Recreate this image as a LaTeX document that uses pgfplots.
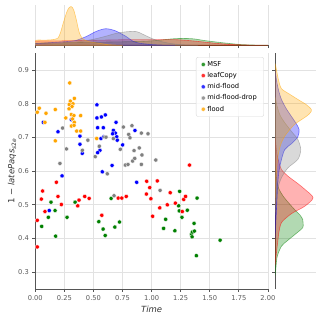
\documentclass[border=0pt]{standalone}
\usepackage{fontspec}
\setmainfont{DejaVu Sans}
\usepackage{pgfplots}
\pgfplotsset{compat=1.18}
\definecolor{cMSF}{RGB}{0,128,0}
\definecolor{cLeaf}{RGB}{255,0,0}
\definecolor{cMid}{RGB}{0,0,255}
\definecolor{cDrop}{RGB}{128,128,128}
\definecolor{cFlood}{RGB}{255,165,0}
\definecolor{gridc}{RGB}{226,226,226}
\definecolor{spine}{RGB}{85,85,85}
\pgfplotsset{
  base/.style={scale only axis, axis line style={spine,line width=0.8pt,-},
    tick style={spine,line width=0.8pt}, tick align=outside, major tick length=3pt,
    grid style={gridc,line width=0.8pt},
    ticklabel style={font=\fontsize{6.7}{8}\selectfont,text=black!65},
    /pgf/number format/assume math mode=true},
  scat/.style={only marks,mark=*,mark size=2.1pt,mark options={draw=white,line width=0.3pt,fill=#1}},
  kde/.style={draw=#1,draw opacity=0.5,fill=#1,fill opacity=0.3,line width=0.6pt,smooth,tension=0.5,mark=none},
}
\begin{document}
\begin{tikzpicture}
\path[use as bounding box] (0,0) rectangle (321pt,320pt);

% main scatter
\begin{axis}[base, at={(35.3pt,31pt)}, anchor=south west,
  width=232.6pt, height=235.7pt,
  axis lines*=left, tick pos=left,
  xmin=0, xmax=2, ymin=0.25, ymax=0.95,
  xtick={0,0.25,...,2}, ytick={0.3,0.4,...,0.9},
  xticklabel style={/pgf/number format/.cd,fixed,fixed zerofill,precision=2},
  yticklabel style={/pgf/number format/.cd,fixed,fixed zerofill,precision=1},
  grid=major,
  xlabel={\itshape Time}, ylabel={1 − \textit{latePaqs}\textsubscript{\textit{s}2\textit{e}}},
  label style={font=\fontsize{8.5}{10}\selectfont,text=black!80},
  xlabel style={at={(axis description cs:0.5,-0.085)},anchor=center},
  ylabel style={at={(axis description cs:-0.1,0.5)},anchor=center},
  legend style={at={(0.983,0.984)},anchor=north east,draw=black!15,rounded corners=2pt,
    fill=white,fill opacity=0.8,text opacity=1,font=\fontsize{6.7}{8}\selectfont,
    row sep=0.6pt,inner xsep=5pt,inner ysep=2pt},
  legend cell align=left,
]
\addplot[scat=cMSF] coordinates {
 (0.055,0.436) (0.112,0.463) (0.135,0.508) (0.170,0.483) (0.175,0.407) (0.273,0.463)
 (0.342,0.508) (0.546,0.450) (0.583,0.428) (0.601,0.409) (0.652,0.519) (0.684,0.434)
 (0.724,0.449) (1.103,0.430) (1.121,0.457) (1.200,0.423) (1.233,0.497) (1.238,0.482)
 (1.241,0.540) (1.261,0.463) (1.307,0.484) (1.342,0.412) (1.348,0.405) (1.350,0.419)
 (1.365,0.445) (1.368,0.422) (1.385,0.349) (1.391,0.520) (1.589,0.395)
};
\addlegendentry{MSF}
\addplot[scat=cLeaf] coordinates {
 (0.017,0.375) (0.017,0.454) (0.052,0.517) (0.063,0.541) (0.083,0.480) (0.181,0.567)
 (0.195,0.525) (0.224,0.501) (0.365,0.497) (0.376,0.514) (0.425,0.525) (0.463,0.519)
 (0.572,0.469) (0.713,0.520) (0.744,0.520) (0.782,0.525) (0.958,0.570) (0.955,0.532)
 (0.984,0.551) (0.994,0.518) (1.009,0.466) (1.049,0.571) (1.070,0.491) (1.135,0.500)
 (1.160,0.536) (1.204,0.505) (1.264,0.480) (1.276,0.516) (1.292,0.525) (1.326,0.618)
};
\addlegendentry{leafCopy}
\addplot[scat=cMid] coordinates {
 (0.069,0.745) (0.120,0.483) (0.195,0.717) (0.230,0.586) (0.310,0.753) (0.384,0.704)
 (0.384,0.680) (0.404,0.653) (0.530,0.797) (0.530,0.758) (0.536,0.729) (0.568,0.761)
 (0.602,0.767) (0.585,0.729) (0.565,0.697) (0.556,0.662) (0.536,0.655) (0.576,0.598)
 (0.660,0.617) (0.694,0.745) (0.671,0.721) (0.688,0.713) (0.700,0.702) (0.705,0.692)
 (0.665,0.711) (0.588,0.702) (0.751,0.678) (0.857,0.721) (0.872,0.567)
};
\addlegendentry{mid-flood}
\addplot[scat=cDrop] coordinates {
 (0.212,0.623) (0.235,0.728) (0.268,0.666) (0.404,0.662) (0.452,0.692) (0.515,0.643)
 (0.550,0.674) (0.597,0.701) (0.608,0.701) (0.619,0.592) (0.671,0.697) (0.677,0.527)
 (0.731,0.665) (0.757,0.731) (0.774,0.618) (0.797,0.620) (0.803,0.709) (0.814,0.699)
 (0.831,0.735) (0.837,0.630) (0.849,0.661) (0.855,0.638) (0.894,0.669) (0.912,0.713)
 (0.912,0.620) (0.917,0.648) (0.969,0.711) (1.036,0.633) (1.073,0.543)
};
\addlegendentry{mid-flood-drop}
\addplot[scat=cFlood] coordinates {
 (0.296,0.862) (0.336,0.816) (0.301,0.808) (0.292,0.798) (0.324,0.800) (0.316,0.792)
 (0.290,0.785) (0.034,0.787) (0.017,0.775) (0.092,0.772) (0.172,0.783) (0.083,0.745)
 (0.262,0.758) (0.310,0.768) (0.332,0.765) (0.390,0.765) (0.320,0.755) (0.335,0.745)
 (0.310,0.734) (0.333,0.736) (0.356,0.719) (0.390,0.719) (0.172,0.690) (0.528,0.697)
};
\addlegendentry{flood}
\end{axis}

% top marginal
\begin{axis}[base, at={(35.3pt,274.7pt)}, anchor=south west,
  width=232.6pt, height=40.3pt,
  axis x line*=bottom, axis y line=none,
  xmin=0, xmax=2, ymin=0, ymax=1,
  xtick={0,0.25,...,2}, xticklabels={}, ytick=\empty,
  xmajorgrids,
]
\addplot[kde=cMSF] coordinates {(0,0) (0,0.05) (0.2,0.06) (0.4,0.07) (0.6,0.08) (0.8,0.09) (1.0,0.11) (1.18,0.16) (1.27,0.17) (1.36,0.16) (1.45,0.12) (1.59,0.07) (1.76,0.02) (1.9,0.005) (2.0,0)} -- cycle;
\addplot[kde=cLeaf] coordinates {(0,0) (0,0.1) (0.2,0.11) (0.4,0.12) (0.6,0.13) (0.8,0.14) (1.0,0.14) (1.2,0.14) (1.35,0.11) (1.55,0.05) (1.7,0.02) (1.85,0.005) (2.0,0)} -- cycle;
\addplot[kde=cMid] coordinates {(0,0) (0,0.04) (0.1,0.06) (0.2,0.08) (0.3,0.1) (0.35,0.12) (0.44,0.22) (0.52,0.34) (0.6,0.41) (0.68,0.37) (0.78,0.22) (0.84,0.1) (0.9,0.05) (1.0,0.02) (1.1,0.005) (1.2,0)} -- cycle;
\addplot[kde=cDrop] coordinates {(0,0) (0.1,0.01) (0.2,0.03) (0.3,0.06) (0.4,0.1) (0.5,0.15) (0.6,0.22) (0.7,0.3) (0.8,0.34) (0.87,0.34) (0.92,0.28) (1.01,0.16) (1.1,0.08) (1.2,0.03) (1.3,0.01) (1.4,0)} -- cycle;
\addplot[kde=cFlood] coordinates {(0,0) (0,0.12) (0.05,0.13) (0.1,0.13) (0.15,0.14) (0.18,0.16) (0.195,0.18) (0.215,0.30) (0.24,0.55) (0.27,0.82) (0.29,0.93) (0.31,0.96) (0.33,0.88) (0.353,0.63) (0.38,0.30) (0.41,0.16) (0.45,0.10) (0.5,0.07) (0.55,0.05) (0.62,0.02) (0.7,0.005) (0.75,0)} -- cycle;
\end{axis}

% right marginal
\begin{axis}[base, at={(275.3pt,31pt)}, anchor=south west,
  width=41pt, height=235.7pt,
  axis y line*=left, axis x line=none,
  xmin=0, xmax=1, ymin=0.25, ymax=0.95,
  ytick={0.3,0.4,...,0.9}, yticklabels={}, xtick=\empty,
  ymajorgrids,
]
\addplot[kde=cMSF] coordinates {(0,0.62) (0.03,0.58) (0.08,0.55) (0.19,0.526) (0.33,0.505) (0.47,0.486) (0.6,0.47) (0.67,0.456) (0.68,0.444) (0.67,0.432) (0.56,0.42) (0.43,0.407) (0.28,0.392) (0.15,0.377) (0.05,0.348) (0.02,0.32) (0,0.29)} -- cycle;
\addplot[kde=cLeaf] coordinates {(0,0.7) (0.03,0.66) (0.08,0.63) (0.15,0.605) (0.31,0.585) (0.55,0.563) (0.72,0.546) (0.92,0.521) (0.72,0.496) (0.45,0.478) (0.31,0.466) (0.15,0.447) (0.09,0.42) (0.06,0.39) (0.03,0.36) (0,0.32)} -- cycle;
\addplot[kde=cMid] coordinates {(0,0.9) (0.03,0.87) (0.08,0.84) (0.15,0.813) (0.27,0.785) (0.39,0.763) (0.5,0.743) (0.58,0.724) (0.55,0.702) (0.4,0.682) (0.23,0.664) (0.13,0.625) (0.08,0.59) (0.05,0.54) (0.03,0.49) (0.01,0.44) (0,0.4)} -- cycle;
\addplot[kde=cDrop] coordinates {(0,0.82) (0.05,0.79) (0.12,0.765) (0.23,0.744) (0.4,0.717) (0.55,0.694) (0.62,0.664) (0.55,0.635) (0.31,0.61) (0.17,0.585) (0.1,0.565) (0.05,0.54) (0.02,0.51) (0,0.47)} -- cycle;
\addplot[kde=cFlood] coordinates {(0,0.92) (0.03,0.9) (0.08,0.87) (0.15,0.845) (0.33,0.83) (0.55,0.813) (0.75,0.798) (0.88,0.783) (0.85,0.773) (0.76,0.763) (0.6,0.75) (0.47,0.739) (0.33,0.72) (0.23,0.704) (0.15,0.685) (0.1,0.665) (0.06,0.64) (0.03,0.6) (0.01,0.55) (0,0.5)} -- cycle;
\end{axis}
\end{tikzpicture}
\end{document}
